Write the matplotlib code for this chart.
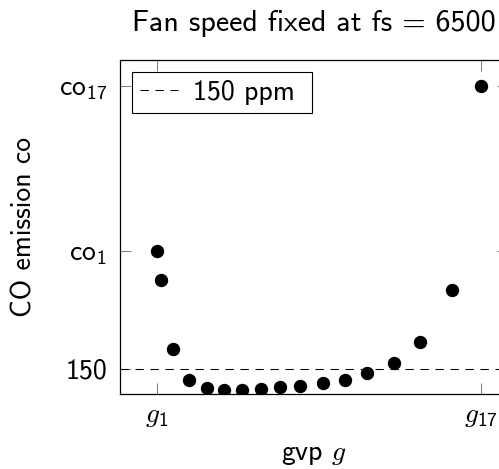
import numpy as np
import matplotlib
matplotlib.use("Agg")
import matplotlib.pyplot as plt

# sans serif TeX-like look
plt.rcParams['font.family'] = ['cmss10', 'DejaVu Sans']
plt.rcParams['mathtext.fontset'] = 'custom'
plt.rcParams['mathtext.rm'] = 'cmss10'
plt.rcParams['mathtext.sf'] = 'cmss10'
plt.rcParams['mathtext.it'] = 'cmmi10'
plt.rcParams['axes.unicode_minus'] = False
plt.rcParams['lines.scale_dashes'] = False

# gvp settings g1..g17 and measured CO emission (ppm)
gvp = [1.0, 1.21, 1.79, 2.59, 3.47, 4.31, 5.22, 6.15, 7.10, 8.07,
       9.22, 10.29, 11.36, 12.72, 13.98, 15.56, 17.0]
co = [385, 327, 190, 127, 111, 107, 108, 110, 113, 116,
      121, 128, 141, 161, 203, 307, 716]
limit_ppm = 150
x_ticks = [gvp[0], gvp[-1]]
x_ticklabels = ['$g_1$', '$g_{17}$']
y_ticks = [limit_ppm, co[0], co[-1]]
y_ticklabels = ['150', 'co$_1$', 'co$_{17}$']

fs = 20
fig = plt.figure(figsize=(4.99, 4.69), dpi=100)
ax = fig.add_axes([0.2405, 0.1593, 0.7776, 0.7128])

ax.plot(gvp, co, 'o', color='black', markersize=8.6, zorder=3)
ax.axhline(limit_ppm, color='black', lw=0.75, dashes=(6, 4.8),
           label='150 ppm ')

ax.set_xlim(-0.81, 18.33)
ax.set_ylim(99.4, 768)
ax.set_xticks(x_ticks)
ax.set_xticklabels(x_ticklabels, fontsize=21.5)
ax.set_yticks(y_ticks)
ax.set_yticklabels(y_ticklabels)
ax.tick_params(direction='in', length=7.9, width=0.75, color='gray',
               top=True, right=True, labelsize=fs)
ax.tick_params(axis='y', pad=9.5)
ax.tick_params(axis='x', pad=7)
for s in ax.spines.values():
    s.set_linewidth(0.9)

ax.set_xlabel('gvp $g$', fontsize=fs, labelpad=9)
ax.set_ylabel('CO emission co', fontsize=fs, labelpad=16)
ax.set_title('Fan speed fixed at fs = 6500', fontsize=21.6, pad=21)

leg = ax.legend(loc='upper left', fontsize=fs, fancybox=False,
                edgecolor='black', framealpha=1, handlelength=1.37,
                handletextpad=0.53, borderpad=0.3, borderaxespad=0.42)
leg.get_frame().set_linewidth(0.8)

fig.savefig('out.png', dpi=100)
